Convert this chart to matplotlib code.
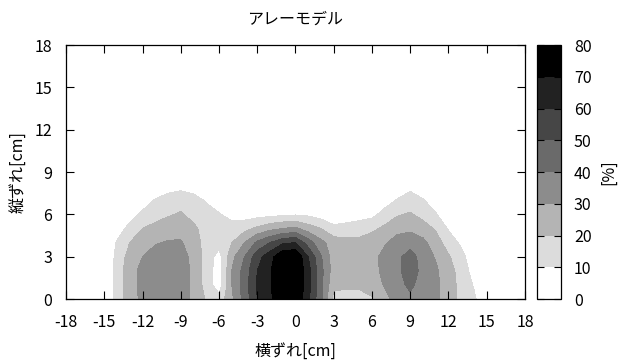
import numpy as np
import matplotlib
matplotlib.use("Agg")
import matplotlib.pyplot as plt
from matplotlib.colors import ListedColormap, BoundaryNorm

plt.rcParams["font.family"] = ["Noto Sans CJK JP", "DejaVu Sans"]
plt.rcParams["axes.unicode_minus"] = False

# grid positions [cm]
x_cm = list(range(-16, 17))
y_cm = list(range(0, 9))

# measured rate [%], one row per vertical offset (x = -16 .. 16)
row_y0 = [0, 0, 14, 26, 32, 36, 37, 34, 28, 19, 14, 28, 44, 60, 68, 78, 80, 62, 42, 17, 16, 16, 19, 27, 34, 38, 35, 33, 23, 18, 12, 0, 0]
row_y1 = [0, 0, 14, 26, 33, 37, 38, 35, 28, 16, 4, 30, 45, 61, 69, 80, 80, 64, 43, 22, 22, 22, 24, 31, 37, 42, 36, 33, 23, 18, 9, 0, 0]
row_y2 = [0, 0, 14, 26, 33, 37, 38, 35, 28, 16, 4, 30, 44, 60, 69, 80, 80, 64, 43, 25, 24, 24, 26, 33, 38, 45, 37, 32, 23, 17, 5, 0, 0]
row_y3 = [0, 0, 13, 24, 30, 35, 37, 34, 27, 16, 6, 27, 40, 56, 66, 79, 80, 60, 41, 25, 24, 24, 27, 33, 38, 44, 36, 29, 21, 14, 2, 0, 0]
row_y4 = [0, 0, 11, 20, 25, 29, 31, 31, 25, 16, 14, 20, 30, 42, 50, 58, 60, 45, 33, 25, 23, 23, 25, 29, 34, 36, 33, 24, 16, 8, 0, 0, 0]
row_y5 = [0, 0, 5, 13, 20, 23, 25, 26, 22, 16, 15, 16, 17, 22, 27, 30, 32, 25, 20, 13, 14, 15, 18, 22, 27, 28, 24, 19, 9, 2, 0, 0, 0]
row_y6 = [0, 0, 0, 6, 12, 16, 19, 21, 17, 14, 11, 5, 5, 6, 7, 8, 9, 8, 5, 2, 4, 6, 7, 14, 19, 21, 17, 11, 2, 0, 0, 0, 0]
row_y7 = [0, 0, 0, 0, 5, 11, 15, 16, 14, 9, 3, 0, 0, 0, 0, 0, 0, 0, 0, 0, 0, 0, 0, 5, 11, 15, 11, 3, 0, 0, 0, 0, 0]
row_y8 = [0, 0, 0, 0, 0, 0, 5, 7, 5, 0, 0, 0, 0, 0, 0, 0, 0, 0, 0, 0, 0, 0, 0, 0, 2, 7, 2, 0, 0, 0, 0, 0, 0]

levels = list(range(0, 81, 10))
ticks_xy = list(range(-18, 19, 3))

grays = ["#ffffff", "#dcdcdc", "#b4b4b4", "#8c8c8c", "#6a6a6a", "#464646", "#222222", "#000000"]
cmap = ListedColormap(grays)
norm = BoundaryNorm(levels, cmap.N)

Z = np.array([row_y0, row_y1, row_y2, row_y3, row_y4, row_y5, row_y6, row_y7, row_y8])

fig = plt.figure(figsize=(6.18, 3.6), dpi=100)
ax = fig.add_axes([0.1068, 0.1694, 0.7427, 0.7056])
cax = fig.add_axes([0.869, 0.1694, 0.0395, 0.7056])

cs = ax.contourf(x_cm, y_cm, Z, levels=levels, cmap=cmap, norm=norm)

ax.set_xlim(-18, 18)
ax.set_ylim(0, 18)
ax.set_xticks(ticks_xy)
ax.set_yticks(list(range(0, 19, 3)))
ax.tick_params(direction="in", length=6, width=0.8, top=True, right=True,
               labelsize=11.5)
ax.tick_params(axis="x", pad=11)
ax.tick_params(axis="y", pad=10)
for s in ax.spines.values():
    s.set_linewidth(0.9)

ax.set_title("アレーモデル", fontsize=11.5, pad=15)
ax.set_xlabel("横ずれ[cm]", fontsize=11.5, labelpad=8)
ax.set_ylabel("縦ずれ[cm]", fontsize=11.5, labelpad=5)

cb = fig.colorbar(cs, cax=cax, ticks=levels)
cb.outline.set_linewidth(0.9)
cax.tick_params(direction="in", length=5, width=0.8, left=True, right=True,
                labelsize=11.5, pad=9)
cb.set_label("[%]", fontsize=11.5, labelpad=6)

fig.savefig("out.png", dpi=100, facecolor="white")
